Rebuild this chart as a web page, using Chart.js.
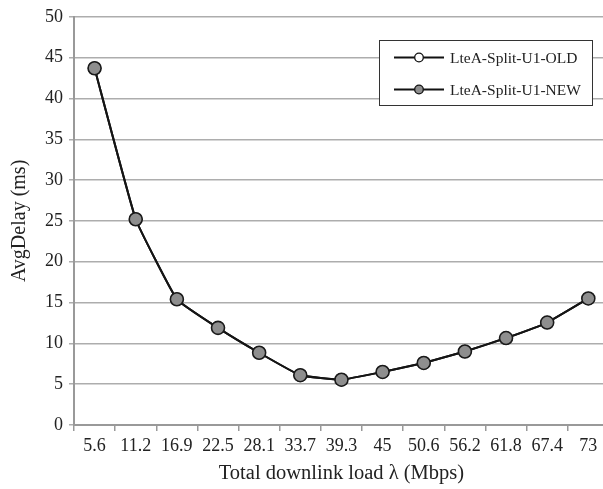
<!DOCTYPE html>
<html>
<head>
<meta charset="utf-8">
<script src="https://cdn.jsdelivr.net/npm/chart.js@4/dist/chart.umd.min.js"></script>
<style>
  html, body { margin: 0; padding: 0; background: #fff; overflow: hidden; }
  #wrap { width: 617px; height: 489px; }
</style>
</head>
<body>
<div id="wrap"><canvas id="myChart" width="617" height="489"></canvas></div>
<script>
// data
const loads = ["5.6", "11.2", "16.9", "22.5", "28.1", "33.7", "39.3", "45", "50.6", "56.2", "61.8", "67.4", "73"];
const delayOld = [43.7, 25.2, 15.4, 11.9, 8.85, 6.1, 5.55, 6.5, 7.6, 9.0, 10.65, 12.55, 15.5];
const delayNew = [43.7, 25.2, 15.4, 11.9, 8.85, 6.1, 5.55, 6.5, 7.6, 9.0, 10.65, 12.55, 15.5];
const yTicks = [0, 5, 10, 15, 20, 25, 30, 35, 40, 45, 50];

const serif = "'Liberation Serif', 'Times New Roman', serif";

// legend box drawn inside the plot, like the original
const boxLegend = {
  id: "boxLegend",
  afterDraw(chart) {
    const c = chart.ctx;
    const x = 379.5, y = 40.5, w = 213, h = 65;
    c.save();
    c.fillStyle = "#fff";
    c.fillRect(x, y, w, h);
    c.strokeStyle = "#333";
    c.lineWidth = 1;
    c.strokeRect(x, y, w, h);
    const rows = [57.5, 89.5];
    chart.data.datasets.forEach((ds, i) => {
      const ry = rows[i];
      c.strokeStyle = "#111";
      c.lineWidth = 2;
      c.beginPath();
      c.moveTo(394, ry);
      c.lineTo(444, ry);
      c.stroke();
      c.beginPath();
      c.arc(419, ry, 4.3, 0, Math.PI * 2);
      c.fillStyle = ds.pointBackgroundColor;
      c.fill();
      c.lineWidth = 1.3;
      c.strokeStyle = "#111";
      c.stroke();
      c.fillStyle = "#222";
      c.font = "15.5px " + serif;
      c.textBaseline = "middle";
      c.textAlign = "left";
      c.fillText(ds.label, 450, ry + 1);
    });
    c.restore();
  }
};

const ctx = document.getElementById("myChart").getContext("2d");
const myChart = new Chart(ctx, {
  type: "line",
  data: {
    labels: loads,
    datasets: [
      {
        label: "LteA-Split-U1-OLD",
        data: delayOld,
        order: 2,
        borderColor: "#111",
        borderWidth: 2,
        tension: 0.1,
        pointRadius: 6,
        pointBorderWidth: 1.5,
        pointBorderColor: "#111",
        pointBackgroundColor: "#ffffff",
      },
      {
        label: "LteA-Split-U1-NEW",
        data: delayNew,
        order: 1,
        borderColor: "#151515",
        borderWidth: 2,
        tension: 0.1,
        pointRadius: 6.5,
        pointBorderWidth: 1.6,
        pointBorderColor: "#1a1a1a",
        pointBackgroundColor: "#8e8e8e",
      },
    ],
  },
  options: {
    responsive: false,
    animation: false,
    devicePixelRatio: 1,
    layout: { padding: { top: 13, right: 3, left: 0, bottom: 0 } },
    plugins: {
      legend: { display: false },
      tooltip: { enabled: false },
    },
    scales: {
      x: {
        offset: true,
        grid: {
          offset: true,
          drawOnChartArea: false,
          color: "#999",
          lineWidth: 1.5,
          tickLength: 6,
        },
        border: { color: "#999", width: 2 },
        ticks: {
          color: "#222",
          font: { family: serif, size: 18 },
          padding: 4,
          maxRotation: 0,
          autoSkip: false,
        },
        title: {
          display: true,
          text: "Total downlink load λ (Mbps)",
          color: "#222",
          font: { family: serif, size: 20.5 },
          padding: { top: 2, bottom: 3 },
        },
        afterFit(scale) {
          scale.height = 64;
        },
      },
      y: {
        min: 0,
        max: 50,
        afterBuildTicks(scale) {
          scale.ticks = yTicks.map((v) => ({ value: v }));
        },
        grid: {
          color: "#adadad",
          lineWidth: 1.5,
          tickLength: 5,
        },
        border: { color: "#999", width: 2 },
        ticks: {
          color: "#222",
          font: { family: serif, size: 18 },
          padding: 6,
        },
        title: {
          display: true,
          text: "AvgDelay (ms)",
          color: "#222",
          font: { family: serif, size: 20 },
          padding: { top: 8, bottom: 0 },
        },
        afterFit(scale) {
          scale.width = 74;
        },
      },
    },
  },
  plugins: [boxLegend],
});
</script>
</body>
</html>
